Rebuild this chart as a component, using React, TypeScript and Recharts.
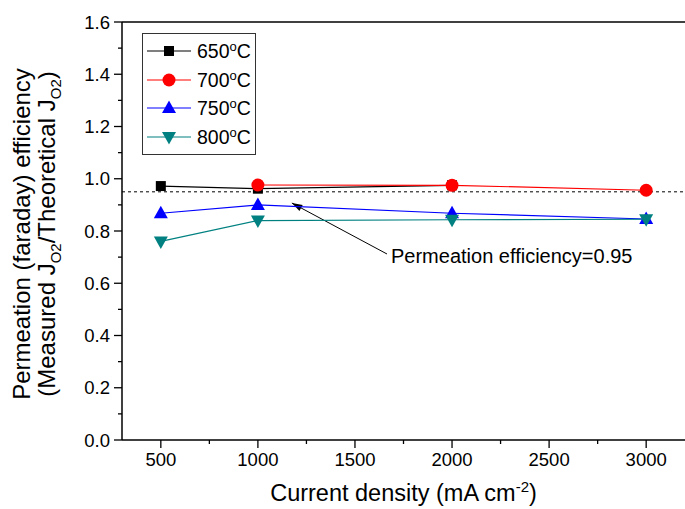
import { Legend, Line, LineChart, ReferenceLine, XAxis, YAxis } from "recharts";

const densities = [500, 1000, 2000, 3000];
const eff650 = [0.972, 0.962, 0.975, null];
const eff700 = [null, 0.976, 0.975, 0.956];
const eff750 = [0.868, 0.9, 0.868, 0.846];
const eff800 = [0.76, 0.84, 0.843, 0.845];

const xTicks = [500, 750, 1000, 1250, 1500, 1750, 2000, 2250, 2500, 2750, 3000];
const yTicks = [0, 0.1, 0.2, 0.3, 0.4, 0.5, 0.6, 0.7, 0.8, 0.9, 1.0, 1.1, 1.2, 1.3, 1.4, 1.5, 1.6];
const targetEff = 0.95;
// arrow tip / tail of the annotation, in data units
const arrowSeg = [
  { x: 1175, y: 0.907 },
  { x: 1665, y: 0.712 },
];

const FONT = "Arial, 'Liberation Sans', sans-serif";

const series = [
  { key: "t650", label: "650", color: "#000000", shape: "square", values: eff650 },
  { key: "t700", label: "700", color: "#ff0000", shape: "circle", values: eff700 },
  { key: "t750", label: "750", color: "#0000ff", shape: "up", values: eff750 },
  { key: "t800", label: "800", color: "#008080", shape: "down", values: eff800 },
];

const data = densities.map((d, i) => {
  const row: Record<string, number | null> = { x: d };
  series.forEach((s) => (row[s.key] = s.values[i]));
  return row;
});

function Marker({ cx, cy, shape, color }: { cx: number; cy: number; shape: string; color: string }) {
  if (shape === "square") return <rect x={cx - 5} y={cy - 5} width={10} height={10} fill={color} />;
  if (shape === "circle") return <circle cx={cx} cy={cy} r={6.5} fill={color} />;
  if (shape === "up")
    return <polygon points={`${cx},${cy - 7.5} ${cx - 7},${cy + 5} ${cx + 7},${cy + 5}`} fill={color} />;
  return <polygon points={`${cx},${cy + 7.5} ${cx - 7},${cy - 5} ${cx + 7},${cy - 5}`} fill={color} />;
}

const YTick = (props: any) => {
  const { x, y, payload } = props;
  const major = Math.round(payload.value * 10) % 2 === 0;
  const len = major ? 8 : 4;
  return (
    <g>
      <line x1={x} x2={x - len} y1={y} y2={y} stroke="#000" strokeWidth={1.3} />
      {major && (
        <text x={x - 12} y={y} dy="0.36em" textAnchor="end" fontSize={18.5} fontFamily={FONT} fill="#000">
          {payload.value.toFixed(1)}
        </text>
      )}
    </g>
  );
};

const XTick = (props: any) => {
  const { x, y, payload } = props;
  const major = payload.value % 500 === 0;
  const len = major ? 8 : 4;
  return (
    <g>
      <line x1={x} x2={x} y1={y} y2={y + len} stroke="#000" strokeWidth={1.3} />
      {major && (
        <text x={x} y={y + 12} dy="0.75em" textAnchor="middle" fontSize={18.5} fontFamily={FONT} fill="#000">
          {payload.value}
        </text>
      )}
    </g>
  );
};

const YTitle = (props: any) => {
  const { x, y, height } = props.viewBox;
  const cy = y + height / 2 + 3;
  const c1 = x + 30;
  const c2 = x + 55;
  return (
    <g fontFamily={FONT} fontSize={24} fill="#000">
      <text x={c1} y={cy} textAnchor="middle" transform={`rotate(-90, ${c1}, ${cy})`}>
        Permeation (faraday) efficiency
      </text>
      <text x={c2} y={cy} textAnchor="middle" transform={`rotate(-90, ${c2}, ${cy})`}>
        (Measured J
        <tspan dy={6} fontSize={15}>O2</tspan>
        <tspan dy={-6}>/Theoretical J</tspan>
        <tspan dy={6} fontSize={15}>O2</tspan>
        <tspan dy={-6}>)</tspan>
      </text>
    </g>
  );
};

const XTitle = (props: any) => {
  const { x, y, width } = props.viewBox;
  return (
    <text x={x + width / 2} y={y + 61} textAnchor="middle" fontFamily={FONT} fontSize={23.5} fill="#000">
      Current density (mA cm
      <tspan dy={-9} fontSize={15}>-2</tspan>
      <tspan dy={9}>)</tspan>
    </text>
  );
};

const Arrow = (props: any) => {
  const { x1, y1, x2, y2 } = props;
  // x1,y1 = tip ; x2,y2 = tail
  const ang = Math.atan2(y1 - y2, x1 - x2);
  const a = 11;
  const w = 0.32;
  const p1 = `${x1 - a * Math.cos(ang - w)},${y1 - a * Math.sin(ang - w)}`;
  const p2 = `${x1 - a * Math.cos(ang + w)},${y1 - a * Math.sin(ang + w)}`;
  return (
    <g>
      <line x1={x1} y1={y1} x2={x2} y2={y2} stroke="#000" strokeWidth={1} />
      <polygon points={`${x1},${y1} ${p1} ${p2}`} fill="#000" />
      <text x={x2 + 4} y={y2 + 9} fontFamily={FONT} fontSize={20} fill="#000">
        Permeation efficiency=0.95
      </text>
    </g>
  );
};

const LegendBox = () => (
  <div
    style={{
      border: "1px solid #333",
      background: "#fff",
      width: 114,
      padding: "3px 0",
      fontFamily: FONT,
      fontSize: 19.5,
      boxSizing: "border-box",
    }}
  >
    {series.map((s) => (
      <div key={s.key} style={{ display: "flex", alignItems: "center", height: 28.5 }}>
        <svg width={54} height={20} style={{ flex: "none" }}>
          <line x1={4} x2={48} y1={10} y2={10} stroke={s.color} strokeWidth={1.2} />
          <Marker cx={26} cy={10} shape={s.shape} color={s.color} />
        </svg>
        <span>
          {s.label}
          <sup style={{ fontSize: 13, verticalAlign: "7px" }}>o</sup>C
        </span>
      </div>
    ))}
  </div>
);

export default function App() {
  return (
    <div>
      <style>{`body{margin:0;background:#fff}`}</style>
      <LineChart width={685} height={509} data={data} margin={{ top: 22, right: 0, bottom: 0, left: 0 }}>
        <XAxis
          dataKey="x"
          type="number"
          domain={[300, 3200]}
          ticks={xTicks}
          interval={0}
          allowDataOverflow
          height={69}
          tickSize={0}
          tickMargin={0}
          tick={<XTick />}
          axisLine={{ stroke: "#000", strokeWidth: 1.5 }}
          label={{ content: XTitle }}
        />
        <YAxis
          type="number"
          domain={[0, 1.6]}
          ticks={yTicks}
          interval={0}
          allowDataOverflow
          width={122}
          tickSize={0}
          tickMargin={0}
          tick={<YTick />}
          axisLine={{ stroke: "#000", strokeWidth: 1.5 }}
          label={{ content: YTitle }}
        />
        <ReferenceLine y={1.6} stroke="#000" strokeWidth={1.5} />
        <ReferenceLine y={targetEff} stroke="#000" strokeWidth={1} strokeDasharray="3 3" />
        <ReferenceLine segment={arrowSeg} shape={<Arrow />} />
        {series.map((s) => (
          <Line
            key={s.key}
            dataKey={s.key}
            name={s.label}
            stroke={s.color}
            strokeWidth={1.2}
            isAnimationActive={false}
            connectNulls={false}
            dot={(p: any) =>
              p.cy == null || p.value == null ? (
                <g key={p.index} />
              ) : (
                <Marker key={p.index} cx={p.cx} cy={p.cy} shape={s.shape} color={s.color} />
              )
            }
          />
        ))}
        <Legend
          layout="horizontal"
          verticalAlign="middle"
          align="center"
          content={<LegendBox />}
          wrapperStyle={{ position: "absolute", top: 33, left: 142, width: 114 }}
        />
      </LineChart>
    </div>
  );
}
